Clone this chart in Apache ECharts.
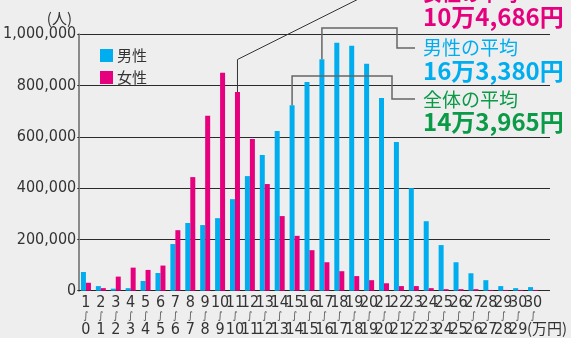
<!DOCTYPE html>
<html>
<head>
<meta charset="utf-8">
<script src="https://cdn.jsdelivr.net/npm/echarts@6/dist/echarts.min.js"></script>
<style>html,body{margin:0;padding:0;background:#eeeeee;}#c{width:571px;height:338px;}</style>
</head>
<body>
<div id="c"></div>
<script>
// ---- data ----
const categories = ['0-1','1-2','2-3','3-4','4-5','5-6','6-7','7-8','8-9','9-10','10-11','11-12','12-13','13-14','14-15','15-16','16-17','17-18','18-19','19-20','20-21','21-22','22-23','23-24','24-25','25-26','26-27','27-28','28-29','29-30','30-'];
const labelTop = ['1','2','3','4','5','6','7','8','9','10','11','12','13','14','15','16','17','18','19','20','21','22','23','24','25','26','27','28','29','30','30'];
const labelBottom = ['0','1','2','3','4','5','6','7','8','9','10','11','12','13','14','15','16','17','18','19','20','21','22','23','24','25','26','27','28','29',''];
const male = [73000,18000,8000,10000,38000,69000,182000,264000,256000,283000,357000,447000,529000,623000,723000,814000,903000,967000,955000,885000,752000,580000,400000,271000,178000,111000,68000,41000,18000,10000,14000];
const female = [31000,10000,55000,90000,81000,98000,236000,443000,682000,850000,775000,592000,416000,291000,214000,158000,111000,76000,57000,41000,29000,18000,18000,10000,6000,6000,6000,3000,3000,3000,3000];
const yTicks = {min:0, max:1000000, interval:200000};
const seriesNames = ['男性','女性'];
const averages = [
  {title:'女性の平均', value:'10万4,686円', color:'#e6007e'},
  {title:'男性の平均', value:'16万3,380円', color:'#00aeef'},
  {title:'全体の平均', value:'14万3,965円', color:'#0a9a48'}
];
const avgAnchor = {female:10, male:16, all:14};

const NUM_FONT = '"Liberation Sans Narrow","DejaVu Sans Condensed","Liberation Sans",sans-serif';
const JP_FONT = '"Noto Sans CJK JP","Noto Sans",sans-serif';
const BLUE = '#00aeef', PINK = '#e6007e';

function fmt(v){ return String(v).replace(/\B(?=(\d{3})+(?!\d))/g, ','); }

const chart = echarts.init(document.getElementById('c'), null, {renderer:'canvas'});
chart.setOption({
  backgroundColor:'#eeeeee',
  animation:false,
  grid:[
    {left:75, right:21, top:34.3, bottom:47.3},
    {left:78.5, right:30.5, top:34.3, bottom:47.3}
  ],
  legend:{
    data:seriesNames, orient:'vertical', left:95, top:43, icon:'rect',
    itemWidth:13, itemHeight:13, itemGap:7,
    textStyle:{fontSize:15, color:'#333', fontFamily:JP_FONT, padding:[0,0,0,-1]}
  },
  xAxis:[
    {gridIndex:0, type:'value', show:false, min:0, max:1},
    {gridIndex:1, type:'category', data:categories,
     axisLine:{lineStyle:{color:'#222', width:1}}, axisTick:{show:false},
     axisLabel:{interval:0, margin:5,
       formatter:(v,i)=>'{n|'+labelTop[i]+'}\n{w|∫}\n{n|'+(labelBottom[i]||' ')+'}',
       rich:{
         n:{fontSize:16, lineHeight:13.5, fontFamily:NUM_FONT, color:'#333'},
         w:{fontSize:10, lineHeight:13.5, fontFamily:'"DejaVu Sans",sans-serif', color:'#555'}
       }}}
  ],
  yAxis:[
    {gridIndex:0, type:'value', min:yTicks.min, max:yTicks.max, interval:yTicks.interval,
     axisLine:{show:true, lineStyle:{color:'#8a8a8a', width:2}},
     axisTick:{show:true, length:2, lineStyle:{color:'#333'}},
     splitLine:{show:true, lineStyle:{color:'#2a2a2a', width:1}},
     axisLabel:{margin:3, formatter:v=>fmt(v), fontSize:16, fontFamily:NUM_FONT, color:'#333'}},
    {gridIndex:1, type:'value', min:yTicks.min, max:yTicks.max, interval:yTicks.interval, show:false, splitLine:{show:false}}
  ],
  series:[
    {name:seriesNames[0], type:'bar', xAxisIndex:1, yAxisIndex:1, data:male, barWidth:5, barGap:'0%', itemStyle:{color:BLUE}},
    {name:seriesNames[1], type:'bar', xAxisIndex:1, yAxisIndex:1, data:female, barWidth:5, barGap:'0%', itemStyle:{color:PINK}}
  ]
});

function pt(i, v){ return chart.convertToPixel({gridIndex:1}, [i, v]); }
const fA = pt(avgAnchor.female, female[avgAnchor.female]); fA[0] += 2.5;
const mA = pt(avgAnchor.male, male[avgAnchor.male]); mA[0] -= 2.5;
const oA = pt(avgAnchor.all, male[avgAnchor.all]); oA[0] -= 2.5;

function txt(t, x, y, size, color, weight, family){
  return {type:'text', z:10, style:{text:t, x:x, y:y, fill:color, fontSize:size, fontWeight:weight||'normal', fontFamily:family||JP_FONT, textVerticalAlign:'top'}};
}
const TX = 423;
chart.setOption({graphic:[
  {type:'polyline', z:5, shape:{points:[fA,[fA[0],59.5],[fA[0]+120,-0.5],[fA[0]+170,-25]]}, style:{stroke:'#333', lineWidth:1, fill:null}},
  {type:'polyline', z:5, shape:{points:[mA,[mA[0],28],[397,28],[397,48],[415,48]]}, style:{stroke:'#666', lineWidth:1.5, fill:null}},
  {type:'polyline', z:5, shape:{points:[oA,[oA[0],76],[392,76],[392,99],[415,99]]}, style:{stroke:'#666', lineWidth:1.5, fill:null}},
  txt(averages[0].title, TX, -15.5, 19, averages[0].color, 'bold'),
  txt(averages[0].value, TX, 5, 24, averages[0].color, 'bold'),
  txt(averages[1].title, TX, 38.5, 19, averages[1].color, 'normal'),
  txt(averages[1].value, TX, 59, 24, averages[1].color, 'bold'),
  txt(averages[2].title, TX, 90.5, 19, averages[2].color, 'normal'),
  txt(averages[2].value, TX, 110, 24, averages[2].color, 'bold'),
  {type:'text', z:10, style:{text:'(人)', x:72, y:11, fill:'#333', fontSize:15, fontFamily:JP_FONT, textAlign:'right', textVerticalAlign:'top'}},
  {type:'text', z:10, style:{text:'(万円)', x:527, y:321, fill:'#333', fontSize:15, fontFamily:JP_FONT, textVerticalAlign:'top'}}
]});
</script>
</body>
</html>
